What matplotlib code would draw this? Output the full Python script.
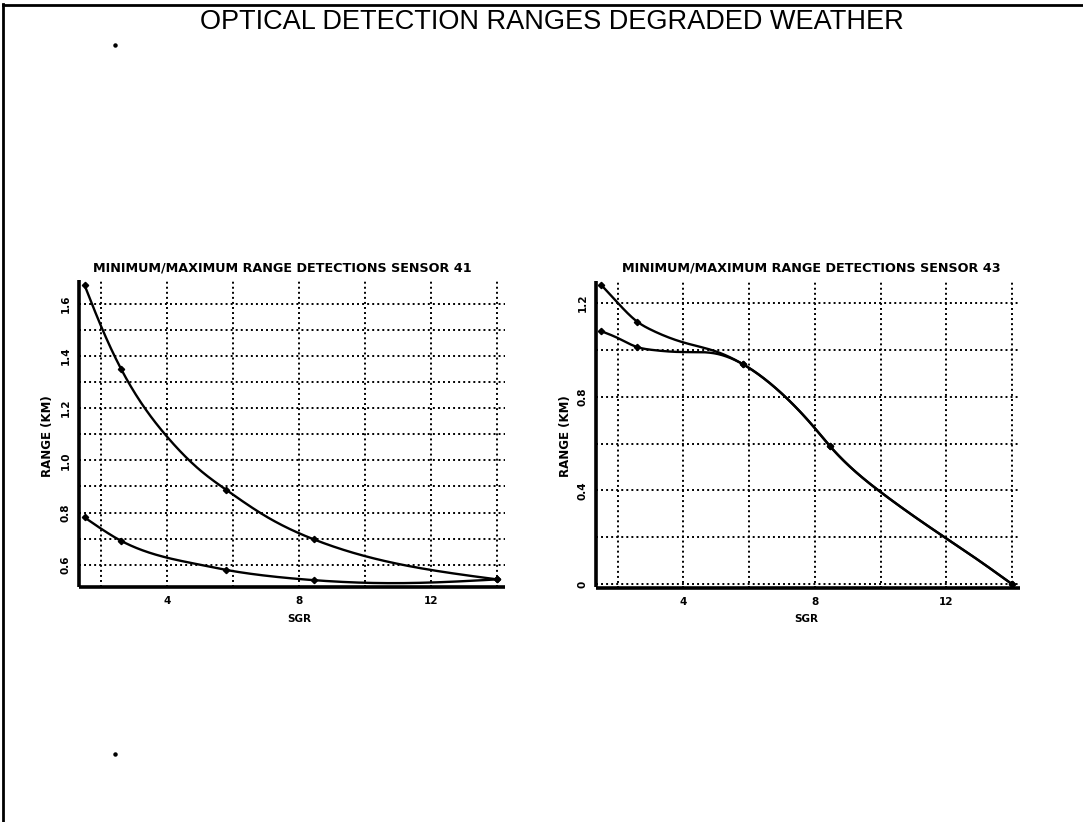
import numpy as np
import matplotlib
matplotlib.use("Agg")
import matplotlib.pyplot as plt
from matplotlib.lines import Line2D
from matplotlib.ticker import FixedLocator

# ---------------- data ----------------
title = "OPTICAL DETECTION RANGES DEGRADED WEATHER"
sub_titles = ["MINIMUM/MAXIMUM RANGE DETECTIONS SENSOR 41",
              "MINIMUM/MAXIMUM RANGE DETECTIONS SENSOR 43"]
x_label = "SGR"
y_label = "RANGE (KM)"

marker_sgr = [1.5, 2.6, 5.8, 8.45, 14.0]

# sensor 41
s41_sgr = [1.5, 2.0, 2.6, 3.0, 4.0, 5.0, 5.8, 7.0, 8.45, 10.0, 12.0, 14.0]
s41_max = [1.67, 1.513, 1.351, 1.262, 1.09, 0.962, 0.886, 0.785, 0.697, 0.633, 0.580, 0.544]
s41_min = [0.781, 0.738, 0.692, 0.668, 0.627, 0.600, 0.580, 0.558, 0.541, 0.531, 0.532, 0.544]

# sensor 43
s43_sgr = [1.5, 2.0, 2.6, 3.0, 4.0, 5.0, 5.8, 7.0, 8.0, 8.45, 10.0, 12.0, 13.0, 14.0]
s43_max = [1.276, 1.20, 1.119, 1.086, 1.031, 0.992, 0.939, 0.812, 0.665, 0.59, 0.393, 0.195, 0.10, 0.0]
s43_min = [1.079, 1.05, 1.011, 1.00, 0.99, 0.983, 0.939, 0.812, 0.665, 0.59, 0.393, 0.195, 0.10, 0.0]

x_major = [4, 8, 12]
x_grid = [2, 4, 6, 8, 10, 12, 14]
y41_major = [0.6, 0.8, 1.0, 1.2, 1.4, 1.6]
y41_grid = [0.6, 0.7, 0.8, 0.9, 1.0, 1.1, 1.2, 1.3, 1.4, 1.5, 1.6]
y43_major = [0.0, 0.4, 0.8, 1.2]
y43_grid = [0.0, 0.2, 0.4, 0.6, 0.8, 1.0, 1.2]


def natural_spline(x, y, xs):
    x = np.asarray(x, float); y = np.asarray(y, float)
    n = len(x); h = np.diff(x)
    A = np.zeros((n, n)); b = np.zeros(n)
    A[0, 0] = 1; A[-1, -1] = 1
    for i in range(1, n - 1):
        A[i, i - 1] = h[i - 1]; A[i, i] = 2 * (h[i - 1] + h[i]); A[i, i + 1] = h[i]
        b[i] = 6 * ((y[i + 1] - y[i]) / h[i] - (y[i] - y[i - 1]) / h[i - 1])
    M = np.linalg.solve(A, b)
    idx = np.clip(np.searchsorted(x, xs) - 1, 0, n - 2)
    x0, x1 = x[idx], x[idx + 1]; hh = h[idx]
    return (M[idx] * (x1 - xs) ** 3 / (6 * hh) + M[idx + 1] * (xs - x0) ** 3 / (6 * hh)
            + (y[idx] / hh - M[idx] * hh / 6) * (x1 - xs)
            + (y[idx + 1] / hh - M[idx + 1] * hh / 6) * (xs - x0))


W, H = 1083, 822
fig = plt.figure(figsize=(W / 100, H / 100), dpi=100)
fig.patch.set_facecolor("white")

# frame lines (left and top)
fig.add_artist(Line2D([3 / W, 3 / W], [0, 1 - 4 / H], color="black", lw=2.0, transform=fig.transFigure))
fig.add_artist(Line2D([3 / W, 1], [1 - 5 / H, 1 - 5 / H], color="black", lw=2.0, transform=fig.transFigure))
# small specks
for (px, py) in [(115, 45), (115, 754)]:
    fig.add_artist(Line2D([px / W], [1 - py / H], marker="o", ms=2.2, color="black", transform=fig.transFigure))

fig.text(552 / W, 1 - 22 / H, title, ha="center", va="center", fontsize=19.5,
         family=["Liberation Sans", "DejaVu Sans"], color="black")

panels = [
    dict(rect=[79.3 / W, 1 - 586.7 / H, (505 - 79.3) / W, (586.7 - 280) / H],
         sgr=s41_sgr, ymax=s41_max, ymin=s41_min, ylim=(0.516, 1.69),
         ymaj=y41_major, ygrid=y41_grid, fmt="{:.1f}", sub=sub_titles[0], subx=282,
         ylx=47, yly=436, sgrx=299),
    dict(rect=[596 / W, 1 - 587.5 / H, (1020 - 596) / W, (587.5 - 281) / H],
         sgr=s43_sgr, ymax=s43_max, ymin=s43_min, ylim=(-0.014, 1.293),
         ymaj=y43_major, ygrid=y43_grid, fmt="{:g}", sub=sub_titles[1], subx=811,
         ylx=566, yly=436, sgrx=806),
]

grid_style = dict(color="black", linestyle=(0, (1.0, 1.6)), linewidth=1.4)

for p in panels:
    ax = fig.add_axes(p["rect"])
    ax.set_xlim(1.34, 14.24)
    ax.set_ylim(*p["ylim"])
    for s in ["top", "right"]:
        ax.spines[s].set_visible(False)
    for s in ["left", "bottom"]:
        ax.spines[s].set_linewidth(2.6)
        ax.spines[s].set_capstyle("butt")
    ax.xaxis.set_major_locator(FixedLocator(x_major))
    ax.xaxis.set_minor_locator(FixedLocator(x_grid))
    ax.yaxis.set_major_locator(FixedLocator(p["ymaj"]))
    ax.yaxis.set_minor_locator(FixedLocator(p["ygrid"]))
    ax.set_xticklabels([str(v) for v in x_major])
    ax.set_yticklabels([p["fmt"].format(v) for v in p["ymaj"]])
    ax.tick_params(which="both", length=0)
    ax.tick_params(axis="x", pad=7, labelsize=7.5)
    ax.tick_params(axis="y", pad=6, labelsize=7.5, labelrotation=90)
    for lab in ax.get_xticklabels() + ax.get_yticklabels():
        lab.set_fontweight("bold")
    for lab in ax.get_yticklabels():
        lab.set_va("center")
    ax.grid(which="major", **grid_style)
    ax.grid(which="minor", **grid_style)
    ax.set_axisbelow(True)

    xs = np.linspace(p["sgr"][0], p["sgr"][-1], 500)
    for series in (p["ymax"], p["ymin"]):
        ax.plot(xs, natural_spline(p["sgr"], series, xs), color="black", lw=1.7,
                solid_capstyle="round")
        mk_y = [series[p["sgr"].index(v)] for v in marker_sgr]
        ax.plot(marker_sgr, mk_y, linestyle="none", marker="D", ms=3.2, color="black")

    fig.text(p["subx"] / W, 1 - 268 / H, p["sub"], ha="center", va="center",
             fontsize=9.2, fontweight="bold", family="DejaVu Sans")
    fig.text(p["ylx"] / W, 1 - p["yly"] / H, y_label, ha="center", va="center",
             rotation=90, fontsize=8.5, fontweight="bold", family="DejaVu Sans")
    fig.text(p["sgrx"] / W, 1 - 619 / H, x_label, ha="center", va="center",
             fontsize=7.5, fontweight="bold", family="DejaVu Sans")

fig.savefig("out.png", dpi=100)
